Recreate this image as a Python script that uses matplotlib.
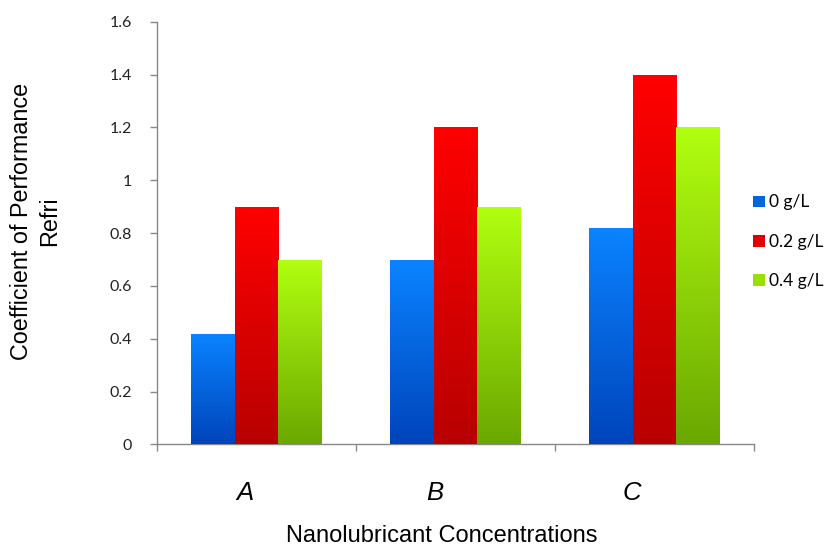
import matplotlib
matplotlib.use("Agg")
import matplotlib.pyplot as plt
import numpy as np
from matplotlib.patches import Patch
from matplotlib.colors import LinearSegmentedColormap

categories = ["A", "B", "C"]
series_labels = ["0 g/L", "0.2 g/L", "0.4 g/L"]
values_0 = [0.42, 0.70, 0.82]
values_02 = [0.90, 1.20, 1.40]
values_04 = [0.70, 0.90, 1.20]
y_ticks = [0, 0.2, 0.4, 0.6, 0.8, 1, 1.2, 1.4, 1.6]
y_tick_labels = ["0", "0.2", "0.4", "0.6", "0.8", "1", "1.2", "1.4", "1.6"]

# top colour, bottom colour for each series gradient
gradients = [
    ("#0a84ff", "#0044bb"),
    ("#ff0000", "#b80000"),
    ("#b2ff10", "#6aa800"),
]
legend_colors = ["#0066e0", "#e00000", "#9be000"]

fig = plt.figure(figsize=(8.28, 5.46), dpi=100)
ax = fig.add_axes([0.1896, 0.1859, 0.7210, 0.7744])

x = np.arange(len(categories))
width = 0.22
grad = np.linspace(1, 0, 256).reshape(-1, 1)

for i, vals in enumerate([values_0, values_02, values_04]):
    offs = (i - 1) * width
    bars = ax.bar(x + offs, vals, width, color=legend_colors[i], zorder=2)
    cmap = LinearSegmentedColormap.from_list(f"g{i}", [gradients[i][1], gradients[i][0]])
    for b in bars:
        bx, by = b.get_x(), b.get_y()
        im = ax.imshow(grad, cmap=cmap, aspect="auto", zorder=3,
                       extent=[bx, bx + b.get_width(), by, by + b.get_height()])
        im.set_clip_path(b)

ax.set_xlim(-0.5, 2.5)
ax.set_ylim(0, 1.6)
ax.set_yticks(y_ticks)
ax.set_yticklabels(y_tick_labels, family="Lato", fontsize=11.5, color="#222222")
ax.set_xticks([-0.5, 0.5, 1.5, 2.5])
ax.set_xticklabels([])
ax.tick_params(axis="both", color="#888888", length=5, width=1)
ax.tick_params(axis="y", direction="out", pad=13)
ax.tick_params(axis="x", direction="out")
for s in ["top", "right"]:
    ax.spines[s].set_visible(False)
for s in ["left", "bottom"]:
    ax.spines[s].set_color("#888888")
    ax.spines[s].set_linewidth(1)

# category labels sit slightly left of the bar groups in the original
label_shift = [-0.06, -0.105, -0.115]
for xi, c, sh in zip(x, categories, label_shift):
    ax.text(xi + sh, -0.183, c, ha="center", va="center", style="italic",
            family="Liberation Sans", fontsize=18.5)

fig.text(0.534, 0.008, "Nanolubricant Concentrations", ha="center", va="baseline",
         family="Liberation Sans", fontsize=17)
fig.text(0.043, 0.595, "Coefficient of Performance\nRefri", ha="center", va="center",
         rotation=90, family="Liberation Sans", fontsize=16.8, linespacing=1.3)

handles = [Patch(facecolor=c, edgecolor="none") for c in legend_colors]
fig.legend(handles, series_labels, loc="center left", bbox_to_anchor=(0.891, 0.557),
           frameon=False, prop={"family": "Lato", "size": 12.5},
           handlelength=0.65, handleheight=0.65, handletextpad=0.25, labelspacing=1.35)

fig.savefig("out.png", dpi=100)
